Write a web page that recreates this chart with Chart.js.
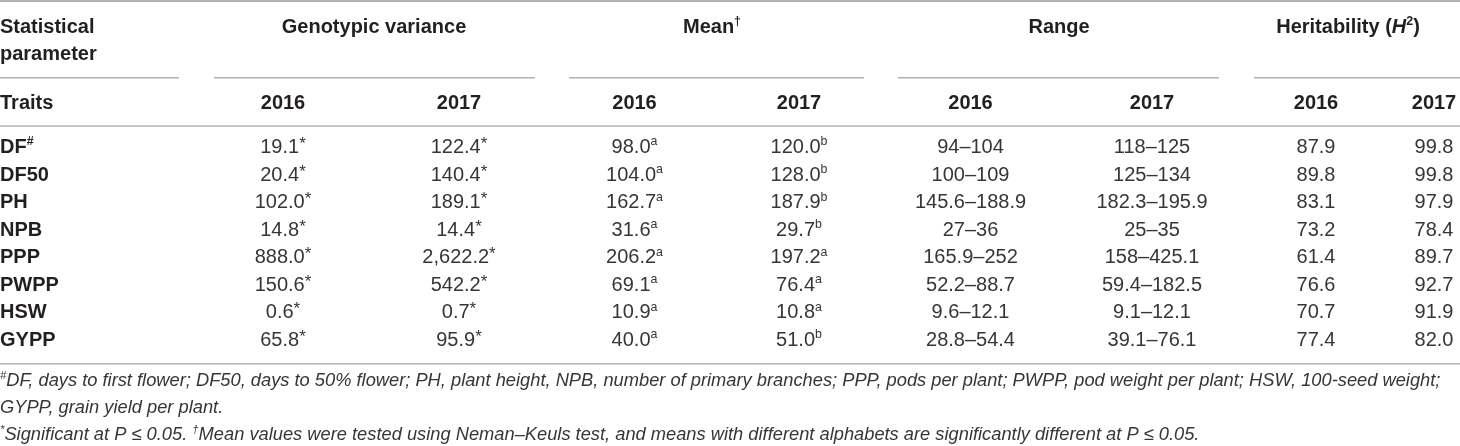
<!DOCTYPE html>
<html>
<head>
<meta charset="utf-8">
<script src="https://cdn.jsdelivr.net/npm/chart.js@4.4.1/dist/chart.umd.min.js"></script>
<style>
html,body{margin:0;padding:0;background:#fff;}
#wrap{width:1460px;height:446px;}
</style>
</head>
<body>
<div id="wrap"><canvas id="c" width="1460" height="446"></canvas></div>
<script>
// ---------- DATA ----------
const traits = ['DF', 'DF50', 'PH', 'NPB', 'PPP', 'PWPP', 'HSW', 'GYPP'];
const years = ['2016', '2017'];
const groups = ['Genotypic variance', 'Mean', 'Range', 'Heritability'];
const gv2016 = [19.1, 20.4, 102.0, 14.8, 888.0, 150.6, 0.6, 65.8];
const gv2017 = [122.4, 140.4, 189.1, 14.4, 2622.2, 542.2, 0.7, 95.9];
const mean2016 = [98.0, 104.0, 162.7, 31.6, 206.2, 69.1, 10.9, 40.0];
const mean2016Letters = ['a', 'a', 'a', 'a', 'a', 'a', 'a', 'a'];
const mean2017 = [120.0, 128.0, 187.9, 29.7, 197.2, 76.4, 10.8, 51.0];
const mean2017Letters = ['b', 'b', 'b', 'b', 'a', 'a', 'a', 'b'];
const range2016Low = [94, 100, 145.6, 27, 165.9, 52.2, 9.6, 28.8];
const range2016High = [104, 109, 188.9, 36, 252, 88.7, 12.1, 54.4];
const range2017Low = [118, 125, 182.3, 25, 158, 59.4, 9.1, 39.1];
const range2017High = [125, 134, 195.9, 35, 425.1, 182.5, 12.1, 76.1];
const herit2016 = [87.9, 89.8, 83.1, 73.2, 61.4, 76.6, 70.7, 77.4];
const herit2017 = [99.8, 99.8, 97.9, 78.4, 89.7, 92.7, 91.9, 82.0];

// ---------- LAYOUT (positions in scale units) ----------
const colX = [283, 459, 634.5, 799, 970.5, 1152, 1316, 1434];
const groupX = [374, 712, 1059, 1348];
const groupLines = [[0, 179], [214, 535], [569, 864], [898, 1219], [1254, 1460]];
const L = {
  topLine: 1, groupBase: 33, paramBase: 60, groupLine: 77.7, yearBase: 109.3,
  yearLine: 126, firstRow: 153, rowStep: 27.57, bottomLine: 363.7,
  foot: [386, 413, 439.5]
};

const FONT = '"Liberation Sans", Arial, Helvetica, sans-serif';
const SIZE = 20, FSIZE = 18.3;
const DARK = '#231f20', TXT = '#363636', LINE = '#b3b3b3';

const fmt1 = v => v.toLocaleString('en-US', {minimumFractionDigits: 1, maximumFractionDigits: 1});

function font(seg, size) {
  const s = seg.sup ? size * 0.62 : (seg.s ? size * seg.s : size);
  return (seg.i ? 'italic ' : '') + (seg.b ? 'bold ' : 'normal ') + s.toFixed(2) + 'px ' + FONT;
}
function drawRich(ctx, segs, x, y, align, size, color) {
  let w = 0;
  segs.forEach(s => { ctx.font = font(s, size); s._w = ctx.measureText(s.t).width; w += s._w; });
  let cx = align === 'center' ? x - w / 2 : (align === 'right' ? x - w : x);
  ctx.textAlign = 'left';
  ctx.textBaseline = 'alphabetic';
  ctx.fillStyle = color;
  segs.forEach(s => {
    ctx.font = font(s, size);
    const dy = s.sup ? size * 0.38 : (s.r ? size * s.r : 0);
    ctx.fillText(s.t, cx, y - dy);
    cx += s._w;
  });
}

const tablePlugin = {
  id: 'tableDraw',
  afterDraw(chart) {
    const ctx = chart.ctx, xs = chart.scales.x, ys = chart.scales.y;
    const X = v => xs.getPixelForValue(v), Y = v => ys.getPixelForValue(v);
    ctx.save();
    // rules
    ctx.strokeStyle = LINE;
    const hline = (a, b, y, w) => { ctx.lineWidth = w; ctx.beginPath(); ctx.moveTo(X(a), Y(y)); ctx.lineTo(X(b), Y(y)); ctx.stroke(); };
    hline(0, 1460, L.topLine, 2);
    groupLines.forEach(g => hline(g[0], g[1], L.groupLine, 1.5));
    hline(0, 1460, L.yearLine, 1.5);
    hline(0, 1460, L.bottomLine, 1.5);

    // header
    drawRich(ctx, [{t: 'Statistical', b: 1}], X(0), Y(L.groupBase), 'left', SIZE, DARK);
    drawRich(ctx, [{t: 'parameter', b: 1}], X(0), Y(L.paramBase), 'left', SIZE, DARK);
    drawRich(ctx, [{t: groups[0], b: 1}], X(groupX[0]), Y(L.groupBase), 'center', SIZE, DARK);
    drawRich(ctx, [{t: groups[1], b: 1}, {t: '†', b: 1, sup: 1}], X(groupX[1]), Y(L.groupBase), 'center', SIZE, DARK);
    drawRich(ctx, [{t: groups[2], b: 1}], X(groupX[2]), Y(L.groupBase), 'center', SIZE, DARK);
    drawRich(ctx, [{t: groups[3] + ' (', b: 1}, {t: 'H', b: 1, i: 1}, {t: '2', b: 1, sup: 1}, {t: ')', b: 1}], X(groupX[3]), Y(L.groupBase), 'center', SIZE, DARK);
    drawRich(ctx, [{t: 'Traits', b: 1}], X(0), Y(L.yearBase), 'left', SIZE, DARK);
    colX.forEach((cx, j) => drawRich(ctx, [{t: years[j % 2], b: 1}], X(cx), Y(L.yearBase), 'center', SIZE, DARK));

    // body
    traits.forEach((tr, i) => {
      const y = Y(L.firstRow + i * L.rowStep);
      const tseg = [{t: tr, b: 1}];
      if (i === 0) tseg.push({t: '#', b: 1, sup: 1});
      drawRich(ctx, tseg, X(0), y, 'left', SIZE, DARK);
      const star = {t: '*', s: 0.85, r: 0.2};
      const cells = [
        [{t: fmt1(gv2016[i])}, star],
        [{t: fmt1(gv2017[i])}, star],
        [{t: fmt1(mean2016[i])}, {t: mean2016Letters[i], sup: 1}],
        [{t: fmt1(mean2017[i])}, {t: mean2017Letters[i], sup: 1}],
        [{t: range2016Low[i] + '–' + range2016High[i]}],
        [{t: range2017Low[i] + '–' + range2017High[i]}],
        [{t: fmt1(herit2016[i])}],
        [{t: fmt1(herit2017[i])}]
      ];
      cells.forEach((c, j) => drawRich(ctx, c, X(colX[j]), y, 'center', SIZE, TXT));
    });

    // footnotes
    drawRich(ctx, [{t: '#', i: 1, sup: 1}, {t: 'DF, days to first flower; DF50, days to 50% flower; PH, plant height, NPB, number of primary branches; PPP, pods per plant; PWPP, pod weight per plant; HSW, 100-seed weight;', i: 1}], X(0), Y(L.foot[0]), 'left', FSIZE, TXT);
    drawRich(ctx, [{t: 'GYPP, grain yield per plant.', i: 1}], X(0), Y(L.foot[1]), 'left', FSIZE, TXT);
    drawRich(ctx, [{t: '*', i: 1, sup: 1}, {t: 'Significant at P ≤ 0.05. ', i: 1}, {t: '†', i: 1, sup: 1}, {t: 'Mean values were tested using Neman–Keuls test, and means with different alphabets are significantly different at P ≤ 0.05.', i: 1}], X(0), Y(L.foot[2]), 'left', FSIZE, TXT);
    ctx.restore();
  }
};

// one invisible point per body cell, placed through the scales
const cellPoints = [];
traits.forEach((t, i) => colX.forEach(cx => cellPoints.push({x: cx, y: L.firstRow + i * L.rowStep})));

new Chart(document.getElementById('c'), {
  type: 'scatter',
  data: {datasets: [{data: cellPoints, pointRadius: 0, pointHoverRadius: 0}]},
  options: {
    responsive: false, animation: false, events: [],
    layout: {padding: 0},
    plugins: {legend: {display: false}, tooltip: {enabled: false}, title: {display: false}},
    scales: {
      x: {type: 'linear', min: 0, max: 1460, display: false},
      y: {type: 'linear', min: 0, max: 446, reverse: true, display: false}
    }
  },
  plugins: [tablePlugin]
});
</script>
</body>
</html>
